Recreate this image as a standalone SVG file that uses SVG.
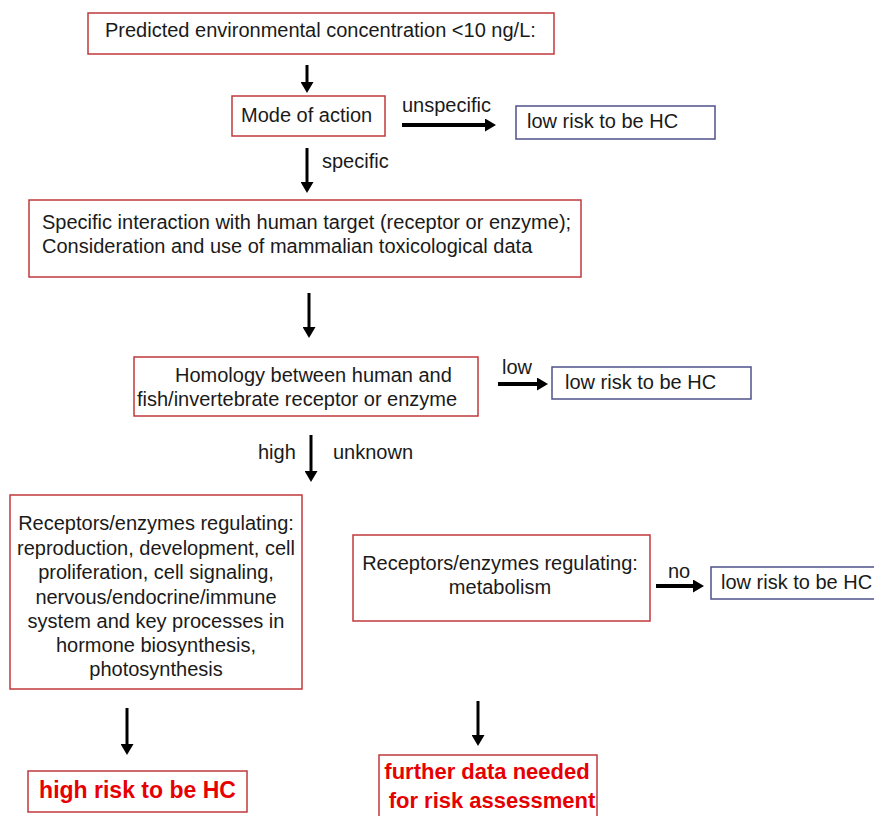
<svg xmlns="http://www.w3.org/2000/svg" width="874" height="816" viewBox="0 0 874 816">
<style>
text{font-family:"Liberation Sans",Arial,sans-serif;font-size:20px;fill:#1a1a1a}
.r{fill:#fff;stroke:#c0393b;stroke-width:1.5}
.b{fill:#fff;stroke:#50508c;stroke-width:1.5}
.c{stroke:#000;stroke-width:3;fill:none;marker-end:url(#ah)}
.h{stroke-width:4}
.m{text-anchor:middle}
.red{font-weight:bold;font-size:22px;fill:#e60000}
</style>
<defs>
<marker id="ah" markerUnits="userSpaceOnUse" markerWidth="12" markerHeight="13" refX="1" refY="6.5" orient="auto">
<path d="M0,0 L11,6.5 L0,13 z" fill="#000"/>
</marker>
</defs>
<rect width="874" height="816" fill="#fff"/>
<g id="connectors">
<line class="c" x1="307" y1="65" x2="307" y2="83"/>
<line class="c h" x1="402" y1="125" x2="486" y2="125"/>
<line class="c" x1="307" y1="148" x2="307" y2="183"/>
<line class="c" x1="309" y1="293" x2="309" y2="328"/>
<line class="c h" x1="498" y1="384" x2="538" y2="384"/>
<line class="c" x1="311" y1="435" x2="311" y2="472"/>
<line class="c h" x1="656" y1="586" x2="694" y2="586"/>
<line class="c" x1="127" y1="708" x2="127" y2="745"/>
<line class="c" x1="478" y1="701" x2="478" y2="736"/>
<text x="402" y="112">unspecific</text>
<text x="322" y="168">specific</text>
<text x="502" y="374">low</text>
<text x="258" y="459">high</text>
<text x="333" y="459">unknown</text>
<text x="668" y="578">no</text>
</g>
<g id="pec">
<rect class="r" x="88" y="13" width="466" height="41"/>
<text x="105" y="37">Predicted environmental concentration &lt;10 ng/L:</text>
</g>
<g id="moa">
<rect class="r" x="232" y="96" width="153" height="40"/>
<text x="241" y="122">Mode of action</text>
</g>
<g id="low1">
<rect class="b" x="516" y="106" width="199" height="33"/>
<text x="527" y="128">low risk to be HC</text>
</g>
<g id="interaction">
<rect class="r" x="29" y="200" width="552" height="77"/>
<text x="42" y="229">Specific interaction with human target (receptor or enzyme);</text>
<text x="42" y="253">Consideration and use of mammalian toxicological data</text>
</g>
<g id="homology">
<rect class="r" x="134" y="357" width="344" height="59"/>
<text x="175" y="382">Homology between human and</text>
<text x="137" y="406">fish/invertebrate receptor or enzyme</text>
</g>
<g id="low2">
<rect class="b" x="552" y="367" width="199" height="32"/>
<text x="565" y="389">low risk to be HC</text>
</g>
<g id="regulating">
<rect class="r" x="10" y="495" width="292" height="194"/>
<text class="m" x="156" y="530">Receptors/enzymes regulating:</text>
<text class="m" x="156" y="555">reproduction, development, cell</text>
<text class="m" x="156" y="579">proliferation, cell signaling,</text>
<text class="m" x="156" y="604">nervous/endocrine/immune</text>
<text class="m" x="156" y="628">system and key processes in</text>
<text class="m" x="156" y="652">hormone biosynthesis,</text>
<text class="m" x="156" y="676">photosynthesis</text>
</g>
<g id="metabolism">
<rect class="r" x="353" y="535" width="297" height="86"/>
<text class="m" x="500" y="570">Receptors/enzymes regulating:</text>
<text class="m" x="500" y="594">metabolism</text>
</g>
<g id="low3">
<rect class="b" x="711" y="567" width="170" height="32"/>
<text x="721" y="589">low risk to be HC</text>
</g>
<g id="high">
<rect class="r" x="28" y="771" width="219" height="41"/>
<text class="m red" x="137.5" y="798" style="font-size:23px">high risk to be HC</text>
</g>
<g id="further">
<rect class="r" x="379" y="755" width="218" height="70"/>
<text class="m red" x="487" y="779">further data needed</text>
<text class="m red" x="492" y="808">for risk assessment</text>
</g>
</svg>
